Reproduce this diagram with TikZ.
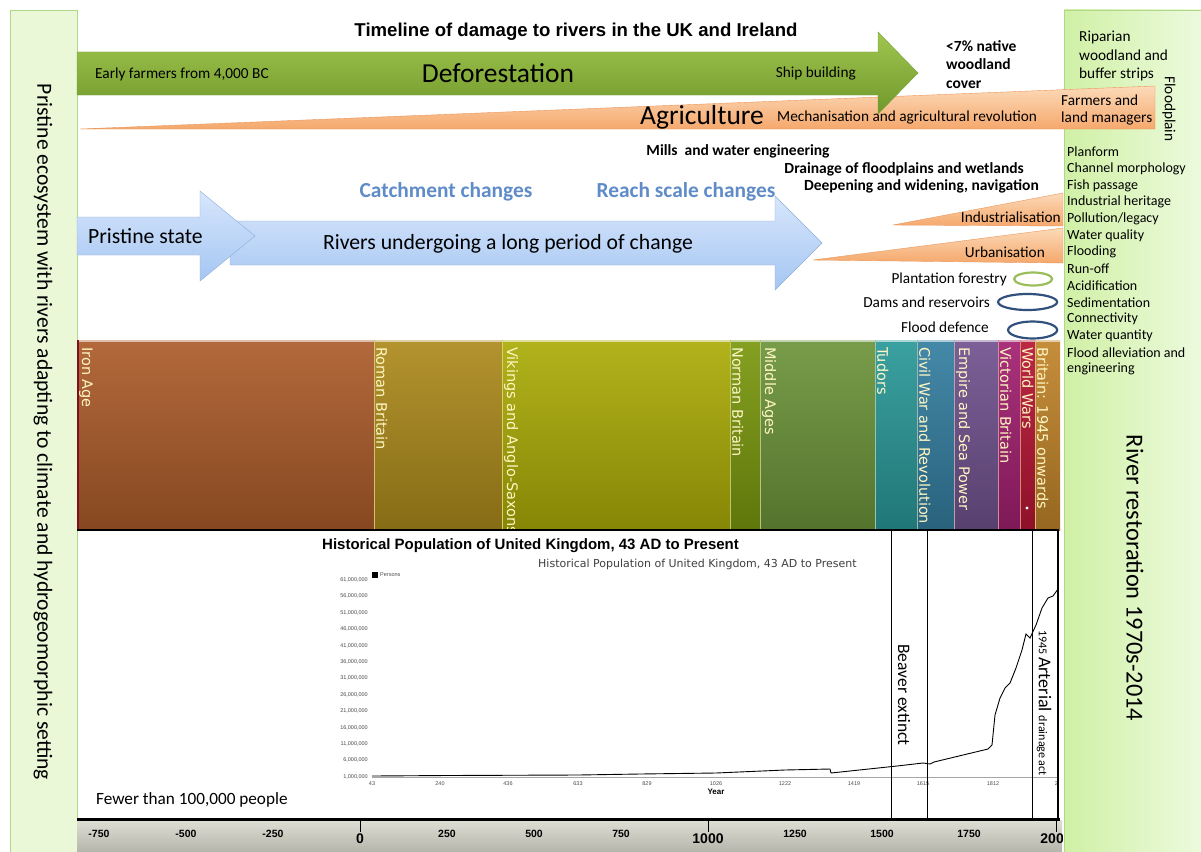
\documentclass[tikz,border=0pt]{standalone}
\usepackage{fontspec}
\setmainfont{Carlito}
\newfontfamily\arialfont{Liberation Sans}
\newfontfamily\verdfont{DejaVu Sans}
\usetikzlibrary{positioning}
\usetikzlibrary{shapes.geometric}

\definecolor{panelfill}{RGB}{234,248,216}
\definecolor{paneledge}{RGB}{175,215,135}
\definecolor{restleft}{RGB}{208,240,165}
\definecolor{restright}{RGB}{238,251,225}
\definecolor{defotop}{RGB}{160,198,80}
\definecolor{defobot}{RGB}{112,152,42}
\definecolor{defoedge}{RGB}{120,160,60}
\definecolor{agtop}{RGB}{252,218,185}
\definecolor{agbot}{RGB}{245,168,108}
\definecolor{agedge}{RGB}{235,150,90}
\definecolor{bluetop}{RGB}{215,230,252}
\definecolor{bluebot}{RGB}{165,198,242}
\definecolor{blueedge}{RGB}{140,175,220}
\definecolor{phasetxt}{RGB}{95,140,200}
\definecolor{ringgreen}{RGB}{155,190,90}
\definecolor{ringblue}{RGB}{50,80,125}
\definecolor{eratxt}{RGB}{255,246,195}
\definecolor{eraIron}{RGB}{172,92,42}
\definecolor{eraRoman}{RGB}{172,138,28}
\definecolor{eraViking}{RGB}{172,172,8}
\definecolor{eraNorman}{RGB}{122,152,14}
\definecolor{eraMiddle}{RGB}{108,148,58}
\definecolor{eraTudor}{RGB}{42,152,152}
\definecolor{eraCivil}{RGB}{52,126,160}
\definecolor{eraEmpire}{RGB}{112,82,142}
\definecolor{eraVictoria}{RGB}{162,32,112}
\definecolor{eraWars}{RGB}{182,22,52}
\definecolor{eraModern}{RGB}{192,132,42}
\definecolor{axtop}{RGB}{222,222,212}
\definecolor{axbot}{RGB}{182,182,172}

\begin{document}
\begin{tikzpicture}[x=1pt,y=-1pt,>=stealth,
    lbl/.style={inner sep=0pt,font=\fontsize{15.3}{17}\selectfont},
    listlbl/.style={inner sep=0pt,font=\fontsize{14}{16}\selectfont},
    boldlbl/.style={inner sep=0pt,font=\bfseries\fontsize{15.5}{18.5}\selectfont},
    biglbl/.style={inner sep=0pt,font=\fontsize{27.5}{30}\selectfont},
    phaselbl/.style={inner sep=0pt,text=phasetxt,font=\bfseries\fontsize{21.4}{24}\selectfont},
    arrowlbl/.style={inner sep=0pt,font=\fontsize{21.7}{24}\selectfont},
    ring/.style={draw,ellipse,line width=2.2pt,inner sep=0pt},
    eralbl/.style={rotate=-90,anchor=south west,inner sep=0pt,text=eratxt,
      font=\verdfont\fontsize{14.5}{16}\selectfont},
    ytick/.style={anchor=east,inner sep=0pt,text=black!70,font=\arialfont\fontsize{5.5}{6}\selectfont},
    xtick/.style={inner sep=0pt,text=black!70,font=\arialfont\fontsize{5.5}{6}\selectfont},
    yearlbl/.style={inner sep=0pt,font=\arialfont\bfseries\fontsize{10.5}{12}\selectfont},
    bigyear/.style={inner sep=0pt,font=\arialfont\bfseries\fontsize{14}{16}\selectfont}]
  \useasboundingbox (0,0) rectangle (1201,851);
  \fill[white] (0,0) rectangle (1201,851);

  % draw the side panels
  \draw[paneledge,fill=panelfill] (10,10) rectangle (77,860);
  \shade[left color=restleft,right color=restright] (1064,10) rectangle (1210,860);
  \draw[paneledge] (1064,860) -- (1064,10) -- (1210,10);
  \node[rotate=-90,font=\fontsize{21.6}{24}\selectfont] (pristinelbl) at (43,432)
    {Pristine ecosystem with rivers adapting to climate and hydrogeomorphic setting};
  \node[rotate=-90,font=\fontsize{24.4}{27}\selectfont] (restlbl) at (1135,578)
    {River restoration 1970s-2014};

  % title
  \node[font=\arialfont\bfseries\fontsize{18.6}{21}\selectfont] (title) at (576,32)
    {Timeline of damage to rivers in the UK and Ireland};

  % agriculture wedge, then the deforestation arrow
  \path[draw=agedge,top color=agtop,bottom color=agbot] (80,129) -- (1155,86) -- (1155,129) -- cycle;
  \path[draw=defoedge,top color=defotop,bottom color=defobot]
    (77,52) -- (878,52) -- (878,32) -- (918,73) -- (878,114) -- (878,95) -- (77,95) -- cycle;
  \node[lbl,anchor=west] (farmers) at (95,74) {Early farmers from 4,000 BC};
  \node[biglbl] (defor) at (498,73) {Deforestation};
  \node[lbl,anchor=east] (ships) at (856,74) {Ship building};
  \node[boldlbl,anchor=north west,align=left] (woodland) at (946,40) {<7\% native\\woodland\\cover};
  \node[biglbl] (agri) at (702,117) {Agriculture};
  \node[lbl,anchor=west] (mech) at (777,118) {Mechanisation and agricultural revolution};
  \node[inner sep=0pt,anchor=west,align=left,font=\fontsize{15.3}{17.5}\selectfont] (landman) at (1061,110)
    {Farmers and\\land managers};

  % right panel list
  \node[inner sep=0pt,anchor=north west,align=left,font=\fontsize{15.3}{18.5}\selectfont] (riparian) at (1079,31)
    {Riparian\\woodland and\\buffer strips};
  \node[rotate=-90,inner sep=0pt,font=\fontsize{15.3}{17}\selectfont] (floodplain) at (1169,109) {Floodplain};
  \foreach \t [count=\i from 0] in {Planform,Channel morphology,Fish passage,Industrial heritage,
      Pollution/legacy,Water quality,Flooding,Run-off,Acidification,Sedimentation,Connectivity,
      Water quantity,Flood alleviation and,engineering}
    \node[listlbl,anchor=west] (fix\i) at (1067,152+\i*16.7) {\t};

  % engineering labels
  \node[boldlbl] (mills) at (738,151) {Mills ~and water engineering};
  \node[boldlbl,anchor=east] (drain) at (1024,169) {Drainage of floodplains and wetlands};
  \node[boldlbl,anchor=east] (deepen) at (1039,186) {Deepening and widening, navigation};
  \node[phaselbl] (catchment) at (446,192) {Catchment changes};
  \node[phaselbl] (reach) at (686,192) {Reach scale changes};

  % blue arrows
  \path[draw=blueedge,top color=bluetop,bottom color=bluebot]
    (230,221) -- (775,221) -- (775,196) -- (822,243) -- (775,290) -- (775,265) -- (230,265) -- cycle;
  \path[draw=blueedge,top color=bluetop,bottom color=bluebot]
    (77,217) -- (200,217) -- (200,191) -- (255,236) -- (200,281) -- (200,255) -- (77,255) -- cycle;
  \node[arrowlbl,anchor=west] (pristine) at (88,236) {Pristine state};
  \node[arrowlbl] (rivers) at (508,244) {Rivers undergoing a long period of change};

  % industrialisation and urbanisation wedges
  \path[draw=agedge,top color=agtop,bottom color=agbot] (893,225) -- (1063,193) -- (1063,226) -- cycle;
  \path[draw=agedge,top color=agtop,bottom color=agbot] (813,260) -- (1063,228) -- (1063,263) -- cycle;
  \node[lbl,anchor=east] (indus) at (1061,217) {Industrialisation};
  \node[lbl,anchor=east] (urban) at (1045,252) {Urbanisation};

  % rings
  \node[lbl,anchor=east] (plant) at (1007,279) {Plantation forestry};
  \node[ring,ringgreen,minimum width=38pt,minimum height=13pt,right=6pt of plant] (plantring) {};
  \node[lbl,anchor=east] (dams) at (990,302) {Dams and reservoirs};
  \node[ring,ringblue,minimum width=59pt,minimum height=16pt,right=7pt of dams] (damsring) {};
  \node[lbl,anchor=east] (flood) at (989,327) {Flood defence};
  \node[ring,ringblue,minimum width=49pt,minimum height=17pt,right=18pt of flood,yshift=-3pt] (floodring) {};

  % era bars
  \begin{scope}
    \clip (77,340) rectangle (1060,530);
    \foreach \xa/\xb/\col/\name [count=\i] in {77/374/eraIron/Iron Age,374/502/eraRoman/Roman Britain,
        502/730/eraViking/Vikings and Anglo-Saxons,730/760/eraNorman/Norman Britain,
        760/875/eraMiddle/Middle Ages,875/917/eraTudor/Tudors,917/954/eraCivil/Civil War and Revolution,
        954/998/eraEmpire/Empire and Sea Power,998/1020/eraVictoria/Victorian Britain,
        1020/1035/eraWars/World Wars,1035/1060/eraModern/Britain: 1945 onwards}
    {
      \shade[top color=\col!92!white,bottom color=\col!78!black] (\xa,340) rectangle (\xb,530);
      \draw[\col!40!white,line width=1.5pt] (\xa,341) -- (\xb,341);
      \draw[\col!50!eratxt] (\xa,340) -- (\xa,530);
      \node[eralbl] (era\i) at (\xa+2,347) {\name};
    }
    \draw[eraWars!70!black,line width=2pt] (78,340) -- (78,530);
    \fill[white] (1027,508) circle (1.6);
  \end{scope}

  % population chart
  \draw[line width=2pt] (77,530) -- (1059,530);
  \node[inner sep=0pt,anchor=west,font=\arialfont\bfseries\fontsize{15}{17}\selectfont] (charttitle) at (322,546)
    {Historical Population of United Kingdom, 43 AD to Present};
  \node[inner sep=0pt,anchor=west,text=black!75,font=\verdfont\fontsize{11}{13}\selectfont] (chartsub) at (538,564)
    {Historical Population of United Kingdom, 43 AD to Present};
  \fill (372,572) rectangle (378,578);
  \node[inner sep=0pt,anchor=west,text=black!70,font=\arialfont\fontsize{5.5}{6}\selectfont] (legend) at (380,575) {Persons};
  \foreach \v [count=\i from 0] in {61,56,...,1}
    \node[ytick] (ylab\i) at (368,580+\i*16.4) {\v,000,000};
  \draw[black!35] (372,777) -- (1058,777);
  \begin{scope}
    \clip (77,530) rectangle (1058,818);
    \foreach \yr/\xx [count=\i] in {43/372,240/440,436/508,633/578,829/647,1026/716,1222/785,
        1419/854,1615/923,1812/993,2008/1061}
      \node[xtick] (xlab\i) at (\xx,784) {\yr};
  \end{scope}
  \node[inner sep=0pt,font=\arialfont\bfseries\fontsize{8}{9}\selectfont] (yearaxis) at (716,792) {Year};
  \draw[line width=0.9pt] plot coordinates {(372,776) (447,775.5) (578,775) (640,774) (716,773)
    (785,770) (830,769) (831,773) (897,766) (923,763) (930,764) (934,762) (988,749) (992,745)
    (995,715) (1000,698) (1005,688) (1010,683) (1016,668) (1022,650) (1026,634) (1030,638)
    (1036,625) (1042,608) (1048,598) (1053,596) (1058,589)};

  % marker lines
  \foreach \xx in {891,927,1032}
    \draw[line width=0.9pt] (\xx,530) -- (\xx,818);
  \draw[line width=2pt] (1058,530) -- (1058,818);
  \node[rotate=-90,inner sep=0pt,font=\fontsize{17.5}{20}\selectfont] (beaver) at (904,695) {Beaver extinct};
  \node[rotate=-90,inner sep=0pt,anchor=west] (arterial) at (1044,630)
    {{\fontsize{12}{14}\selectfont 1945 }{\fontsize{18}{20}\selectfont Arterial }{\fontsize{12}{14}\selectfont drainage act}};
  \node[inner sep=0pt,anchor=west,font=\fontsize{17.2}{19}\selectfont] (fewer) at (96,800) {Fewer than 100,000 people};

  % draw the year axis
  \begin{scope}
    \clip (77,815) rectangle (1062,851);
    \shade[top color=axtop,bottom color=axbot] (77,820) rectangle (1062,851);
    \draw[line width=3pt] (77,819) -- (1060,819);
    \foreach \v in {0,1000,2000}
      \draw (360+\v*0.348,819) -- (360+\v*0.348,832);
    \foreach \v in {-750,-500,-250,250,500,750,1250,1500,1750}
      \node[yearlbl] (yr\v) at (360+\v*0.348,834) {\v};
    \foreach \v in {0,1000,2000}
      \node[bigyear] (yr\v) at (360+\v*0.348,839) {\v};
  \end{scope}
\end{tikzpicture}
\end{document}
